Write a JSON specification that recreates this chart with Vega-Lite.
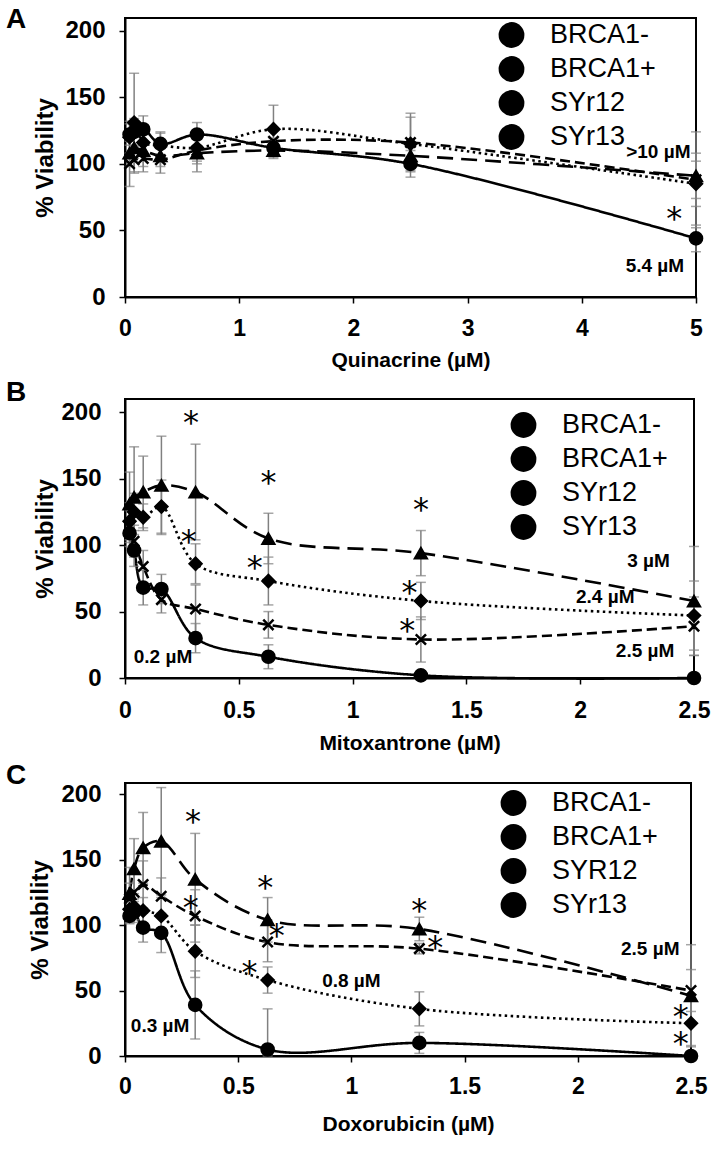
{
  "$schema": "https://vega.github.io/schema/vega-lite/v6.json",
  "background": "white",
  "padding": 5,
  "spacing": 7,
  "datasets": {
    "A": [
      {"s": "BRCA1-", "x": 0.04, "y": 122, "lo": 114, "hi": 130},
      {"s": "BRCA1-", "x": 0.08, "y": 124, "lo": 114, "hi": 134},
      {"s": "BRCA1-", "x": 0.16, "y": 126, "lo": 116, "hi": 136},
      {"s": "BRCA1-", "x": 0.31, "y": 115, "lo": 107, "hi": 123},
      {"s": "BRCA1-", "x": 0.63, "y": 122, "lo": 113, "hi": 131},
      {"s": "BRCA1-", "x": 1.3, "y": 112, "lo": 105, "hi": 119},
      {"s": "BRCA1-", "x": 2.5, "y": 100, "lo": 90, "hi": 110},
      {"s": "BRCA1-", "x": 5, "y": 44, "lo": 34, "hi": 54},
      {"s": "BRCA1+", "x": 0.04, "y": 108, "lo": 98, "hi": 118},
      {"s": "BRCA1+", "x": 0.08, "y": 112, "lo": 104, "hi": 120},
      {"s": "BRCA1+", "x": 0.16, "y": 110, "lo": 98, "hi": 122},
      {"s": "BRCA1+", "x": 0.31, "y": 106, "lo": 98, "hi": 114},
      {"s": "BRCA1+", "x": 0.63, "y": 108, "lo": 94, "hi": 122},
      {"s": "BRCA1+", "x": 1.3, "y": 110, "lo": 104, "hi": 116},
      {"s": "BRCA1+", "x": 2.5, "y": 106, "lo": 98, "hi": 114},
      {"s": "BRCA1+", "x": 5, "y": 91, "lo": 74, "hi": 108},
      {"s": "SYr12", "x": 0.04, "y": 120, "lo": 108, "hi": 132},
      {"s": "SYr12", "x": 0.08, "y": 131, "lo": 94, "hi": 168},
      {"s": "SYr12", "x": 0.16, "y": 116, "lo": 106, "hi": 126},
      {"s": "SYr12", "x": 0.31, "y": 114, "lo": 104, "hi": 124},
      {"s": "SYr12", "x": 0.63, "y": 112, "lo": 102, "hi": 122},
      {"s": "SYr12", "x": 1.3, "y": 126, "lo": 108, "hi": 144},
      {"s": "SYr12", "x": 2.5, "y": 115, "lo": 95, "hi": 135},
      {"s": "SYr12", "x": 5, "y": 85, "lo": 68, "hi": 102},
      {"s": "SYr13", "x": 0.04, "y": 100, "lo": 83, "hi": 117},
      {"s": "SYr13", "x": 0.08, "y": 103, "lo": 93, "hi": 113},
      {"s": "SYr13", "x": 0.16, "y": 104, "lo": 94, "hi": 114},
      {"s": "SYr13", "x": 0.31, "y": 103, "lo": 93, "hi": 113},
      {"s": "SYr13", "x": 0.63, "y": 110, "lo": 100, "hi": 120},
      {"s": "SYr13", "x": 1.3, "y": 117, "lo": 109, "hi": 125},
      {"s": "SYr13", "x": 2.5, "y": 116, "lo": 94, "hi": 138},
      {"s": "SYr13", "x": 5, "y": 88, "lo": 52, "hi": 124}
    ],
    "B": [
      {"s": "BRCA1-", "x": 0.02, "y": 109, "lo": 99, "hi": 119},
      {"s": "BRCA1-", "x": 0.04, "y": 96, "lo": 84, "hi": 108},
      {"s": "BRCA1-", "x": 0.08, "y": 68, "lo": 55, "hi": 81},
      {"s": "BRCA1-", "x": 0.16, "y": 67, "lo": 56, "hi": 78},
      {"s": "BRCA1-", "x": 0.31, "y": 30, "lo": 19, "hi": 41},
      {"s": "BRCA1-", "x": 0.63, "y": 16, "lo": 7, "hi": 25},
      {"s": "BRCA1-", "x": 1.3, "y": 2, "lo": 0, "hi": 4},
      {"s": "BRCA1-", "x": 2.5, "y": 0, "lo": 0, "hi": 1},
      {"s": "BRCA1+", "x": 0.02, "y": 131, "lo": 107, "hi": 155},
      {"s": "BRCA1+", "x": 0.04, "y": 136, "lo": 98, "hi": 174},
      {"s": "BRCA1+", "x": 0.08, "y": 140, "lo": 113, "hi": 167},
      {"s": "BRCA1+", "x": 0.16, "y": 145, "lo": 108, "hi": 182},
      {"s": "BRCA1+", "x": 0.31, "y": 140, "lo": 104, "hi": 176},
      {"s": "BRCA1+", "x": 0.63, "y": 105, "lo": 86, "hi": 124},
      {"s": "BRCA1+", "x": 1.3, "y": 94, "lo": 77, "hi": 111},
      {"s": "BRCA1+", "x": 2.5, "y": 58, "lo": 17, "hi": 99},
      {"s": "SYr12", "x": 0.02, "y": 118, "lo": 104, "hi": 132},
      {"s": "SYr12", "x": 0.04, "y": 125, "lo": 111, "hi": 139},
      {"s": "SYr12", "x": 0.08, "y": 121, "lo": 111, "hi": 131},
      {"s": "SYr12", "x": 0.16, "y": 129, "lo": 109, "hi": 149},
      {"s": "SYr12", "x": 0.31, "y": 86, "lo": 71, "hi": 101},
      {"s": "SYr12", "x": 0.63, "y": 73, "lo": 55, "hi": 91},
      {"s": "SYr12", "x": 1.3, "y": 58, "lo": 44, "hi": 72},
      {"s": "SYr12", "x": 2.5, "y": 47, "lo": 21, "hi": 73},
      {"s": "SYr13", "x": 0.02, "y": 114, "lo": 102, "hi": 126},
      {"s": "SYr13", "x": 0.04, "y": 103, "lo": 91, "hi": 115},
      {"s": "SYr13", "x": 0.08, "y": 84, "lo": 72, "hi": 96},
      {"s": "SYr13", "x": 0.16, "y": 59, "lo": 49, "hi": 69},
      {"s": "SYr13", "x": 0.31, "y": 52, "lo": 34, "hi": 70},
      {"s": "SYr13", "x": 0.63, "y": 40, "lo": 30, "hi": 50},
      {"s": "SYr13", "x": 1.3, "y": 29, "lo": 12, "hi": 46},
      {"s": "SYr13", "x": 2.5, "y": 39, "lo": 17, "hi": 61}
    ],
    "C": [
      {"s": "BRCA1-", "x": 0.02, "y": 107, "lo": 101, "hi": 113},
      {"s": "BRCA1-", "x": 0.04, "y": 110, "lo": 102, "hi": 118},
      {"s": "BRCA1-", "x": 0.08, "y": 98, "lo": 87, "hi": 109},
      {"s": "BRCA1-", "x": 0.16, "y": 94, "lo": 79, "hi": 109},
      {"s": "BRCA1-", "x": 0.31, "y": 39, "lo": 13, "hi": 65},
      {"s": "BRCA1-", "x": 0.63, "y": 5, "lo": 0, "hi": 36},
      {"s": "BRCA1-", "x": 1.3, "y": 10, "lo": 2, "hi": 18},
      {"s": "BRCA1-", "x": 2.5, "y": 0, "lo": 0, "hi": 1},
      {"s": "BRCA1+", "x": 0.02, "y": 124, "lo": 104, "hi": 144},
      {"s": "BRCA1+", "x": 0.04, "y": 143, "lo": 120, "hi": 166},
      {"s": "BRCA1+", "x": 0.08, "y": 159, "lo": 132, "hi": 186},
      {"s": "BRCA1+", "x": 0.16, "y": 164, "lo": 123, "hi": 205},
      {"s": "BRCA1+", "x": 0.31, "y": 135, "lo": 100, "hi": 170},
      {"s": "BRCA1+", "x": 0.63, "y": 104, "lo": 87, "hi": 121},
      {"s": "BRCA1+", "x": 1.3, "y": 97, "lo": 88, "hi": 106},
      {"s": "BRCA1+", "x": 2.5, "y": 46, "lo": 7, "hi": 85},
      {"s": "SYR12", "x": 0.02, "y": 112, "lo": 102, "hi": 122},
      {"s": "SYR12", "x": 0.04, "y": 114, "lo": 104, "hi": 124},
      {"s": "SYR12", "x": 0.08, "y": 111, "lo": 101, "hi": 121},
      {"s": "SYR12", "x": 0.16, "y": 107, "lo": 93, "hi": 121},
      {"s": "SYR12", "x": 0.31, "y": 80, "lo": 60, "hi": 100},
      {"s": "SYR12", "x": 0.63, "y": 58, "lo": 48, "hi": 68},
      {"s": "SYR12", "x": 1.3, "y": 36, "lo": 23, "hi": 49},
      {"s": "SYR12", "x": 2.5, "y": 25, "lo": 8, "hi": 42},
      {"s": "SYr13", "x": 0.02, "y": 120, "lo": 108, "hi": 132},
      {"s": "SYr13", "x": 0.04, "y": 125, "lo": 111, "hi": 139},
      {"s": "SYr13", "x": 0.08, "y": 131, "lo": 113, "hi": 149},
      {"s": "SYr13", "x": 0.16, "y": 122, "lo": 108, "hi": 136},
      {"s": "SYr13", "x": 0.31, "y": 107, "lo": 87, "hi": 127},
      {"s": "SYr13", "x": 0.63, "y": 87, "lo": 72, "hi": 102},
      {"s": "SYr13", "x": 1.3, "y": 82, "lo": 78, "hi": 86},
      {"s": "SYr13", "x": 2.5, "y": 50, "lo": 34, "hi": 66}
    ],
    "A_star": [{"x": 4.81, "y": 64, "label": "*"}],
    "A_lbl": [
      {"x": 4.67, "y": 109, "label": ">10 µM"},
      {"x": 4.64, "y": 23, "label": "5.4 µM"}
    ],
    "B_star": [
      {"x": 0.29, "y": 197, "label": "*"},
      {"x": 0.63, "y": 152, "label": "*"},
      {"x": 1.3, "y": 132, "label": "*"},
      {"x": 0.28, "y": 108, "label": "*"},
      {"x": 0.57, "y": 88, "label": "*"},
      {"x": 1.25, "y": 69, "label": "*"},
      {"x": 1.24, "y": 41, "label": "*"}
    ],
    "B_lbl": [
      {"x": 2.3, "y": 88, "label": "3 µM"},
      {"x": 2.11, "y": 61, "label": "2.4 µM"},
      {"x": 2.285, "y": 20, "label": "2.5 µM"},
      {"x": 0.167, "y": 16, "label": "0.2 µM"}
    ],
    "C_star": [
      {"x": 0.3, "y": 184, "label": "*"},
      {"x": 0.62, "y": 134, "label": "*"},
      {"x": 0.29, "y": 118, "label": "*"},
      {"x": 0.55, "y": 69, "label": "*"},
      {"x": 0.67, "y": 97, "label": "*"},
      {"x": 1.3, "y": 116, "label": "*"},
      {"x": 1.37, "y": 88, "label": "*"},
      {"x": 2.455, "y": 35, "label": "*"},
      {"x": 2.455, "y": 14.5, "label": "*"}
    ],
    "C_lbl": [
      {"x": 0.155, "y": 23, "label": "0.3 µM"},
      {"x": 1.0, "y": 57, "label": "0.8 µM"},
      {"x": 2.32, "y": 82, "label": "2.5 µM"}
    ]
  },
  "vconcat": [
    {
      "title": {"text": "A", "anchor": "start", "frame": "group", "orient": "top", "offset": -38, "dx": -119, "baseline": "alphabetic", "font": "Liberation Sans", "fontSize": 28, "fontWeight": "bold", "color": "black"},
      "width": 571,
      "height": 279,
      "data": {"name": "A"},
      "encoding": {
        "x": {"field": "x", "type": "quantitative", "title": "Quinacrine (µM)", "scale": {"domain": [0, 5], "nice": false, "zero": false}, "axis": {"values": [0, 1, 2, 3, 4, 5], "format": "~g", "labelFlush": false, "labelPadding": 14, "titlePadding": 9, "labelFontSize": 23, "titleFontSize": 21}},
        "y": {"field": "y", "type": "quantitative", "title": "% Viability", "scale": {"domain": [0, 209.5], "nice": false}, "axis": {"values": [0, 50, 100, 150, 200], "labelPadding": 14, "titlePadding": 7, "labelFontSize": 24, "titleFontSize": 24}}
      },
      "layer": [
        {"mark": {"type": "line", "interpolate": "catmull-rom", "color": "black", "strokeWidth": 2.6}, "encoding": {"strokeDash": {"field": "s", "type": "nominal", "scale": {"range": [[16, 8], [1, 0], [2.5, 3.5], [10, 5]]}, "legend": null}}},
        {"mark": {"type": "errorbar", "color": "#808080", "thickness": 1.5, "ticks": {"size": 10, "thickness": 1.5}}, "encoding": {"y": {"field": "lo", "type": "quantitative", "title": "% Viability", "scale": {"domain": [0, 209.5], "nice": false}}, "y2": {"field": "hi"}}},
        {"mark": {"type": "point", "filled": false, "fill": "black", "stroke": "black", "strokeWidth": 1.6, "size": 170}, "encoding": {
          "shape": {"field": "s", "type": "nominal", "scale": {"domain": ["BRCA1+", "BRCA1-", "SYr12", "SYr13"], "range": ["triangle-up", "circle", "diamond", "M0,-0.1L0.65,-0.75L0.75,-0.65L0.1,0L0.75,0.65L0.65,0.75L0,0.1L-0.65,0.75L-0.75,0.65L-0.1,0L-0.75,-0.65L-0.65,-0.75Z"]}, "legend": null},
          "opacity": {"field": "s", "type": "nominal", "scale": {"domain": ["BRCA1-", "BRCA1+", "SYr12", "SYr13"], "range": [1, 1, 1, 1]}, "legend": {"orient": "none", "legendX": 354, "legendY": 3, "title": null, "padding": 0, "rowPadding": 0, "symbolSize": 666, "symbolOffset": 18.5, "labelOffset": 24.5, "labelFont": "Liberation Sans", "labelFontSize": 27, "labelFontWeight": "normal", "labelColor": "black", "labelLimit": 400, "symbolStrokeWidth": 2, "symbolFillColor": "black", "symbolStrokeColor": "black"}}
        }},
        {"data": {"name": "A_star"}, "mark": {"type": "text", "font": "DejaVu Sans", "fontSize": 32, "dy": 7, "align": "center", "baseline": "middle", "color": "black"}, "encoding": {"text": {"field": "label"}}},
        {"data": {"name": "A_lbl"}, "mark": {"type": "text", "font": "Liberation Sans", "fontWeight": "bold", "fontSize": 19, "align": "center", "baseline": "middle", "color": "black"}, "encoding": {"text": {"field": "label"}}}
      ]
    },
    {
      "title": {"text": "B", "anchor": "start", "frame": "group", "orient": "top", "offset": -30, "dx": -119, "baseline": "alphabetic", "font": "Liberation Sans", "fontSize": 28, "fontWeight": "bold", "color": "black"},
      "width": 569,
      "height": 279,
      "data": {"name": "B"},
      "encoding": {
        "x": {"field": "x", "type": "quantitative", "title": "Mitoxantrone (µM)", "scale": {"domain": [0, 2.5], "nice": false, "zero": false}, "axis": {"values": [0, 0.5, 1, 1.5, 2, 2.5], "format": "~g", "labelFlush": false, "labelPadding": 15, "titlePadding": 10, "labelFontSize": 23, "titleFontSize": 21}},
        "y": {"field": "y", "type": "quantitative", "title": "% Viability", "scale": {"domain": [0, 210], "nice": false}, "axis": {"values": [0, 50, 100, 150, 200], "labelPadding": 18, "titlePadding": 3, "labelFontSize": 24, "titleFontSize": 24}}
      },
      "layer": [
        {"mark": {"type": "line", "interpolate": "catmull-rom", "color": "black", "strokeWidth": 2.6}, "encoding": {"strokeDash": {"field": "s", "type": "nominal", "scale": {"range": [[16, 8], [1, 0], [2.5, 3.5], [10, 5]]}, "legend": null}}},
        {"mark": {"type": "errorbar", "color": "#808080", "thickness": 1.5, "ticks": {"size": 10, "thickness": 1.5}}, "encoding": {"y": {"field": "lo", "type": "quantitative", "title": "% Viability", "scale": {"domain": [0, 210], "nice": false}}, "y2": {"field": "hi"}}},
        {"mark": {"type": "point", "filled": false, "fill": "black", "stroke": "black", "strokeWidth": 1.6, "size": 170}, "encoding": {
          "shape": {"field": "s", "type": "nominal", "scale": {"domain": ["BRCA1+", "BRCA1-", "SYr12", "SYr13"], "range": ["triangle-up", "circle", "diamond", "M0,-0.1L0.65,-0.75L0.75,-0.65L0.1,0L0.75,0.65L0.65,0.75L0,0.1L-0.65,0.75L-0.75,0.65L-0.1,0L-0.75,-0.65L-0.65,-0.75Z"]}, "legend": null},
          "opacity": {"field": "s", "type": "nominal", "scale": {"domain": ["BRCA1-", "BRCA1+", "SYr12", "SYr13"], "range": [1, 1, 1, 1]}, "legend": {"orient": "none", "legendX": 366, "legendY": 12, "title": null, "padding": 0, "rowPadding": 0, "symbolSize": 666, "symbolOffset": 18.5, "labelOffset": 24.5, "labelFont": "Liberation Sans", "labelFontSize": 27, "labelFontWeight": "normal", "labelColor": "black", "labelLimit": 400, "symbolStrokeWidth": 2, "symbolFillColor": "black", "symbolStrokeColor": "black"}}
        }},
        {"data": {"name": "B_star"}, "mark": {"type": "text", "font": "DejaVu Sans", "fontSize": 32, "dy": 7, "align": "center", "baseline": "middle", "color": "black"}, "encoding": {"text": {"field": "label"}}},
        {"data": {"name": "B_lbl"}, "mark": {"type": "text", "font": "Liberation Sans", "fontWeight": "bold", "fontSize": 19, "align": "center", "baseline": "middle", "color": "black"}, "encoding": {"text": {"field": "label"}}}
      ]
    },
    {
      "title": {"text": "C", "anchor": "start", "frame": "group", "orient": "top", "offset": -30, "dx": -119, "baseline": "alphabetic", "font": "Liberation Sans", "fontSize": 28, "fontWeight": "bold", "color": "black"},
      "width": 566,
      "height": 273,
      "data": {"name": "C"},
      "encoding": {
        "x": {"field": "x", "type": "quantitative", "title": "Doxorubicin (µM)", "scale": {"domain": [0, 2.5], "nice": false, "zero": false}, "axis": {"values": [0, 0.5, 1, 1.5, 2, 2.5], "format": "~g", "labelFlush": false, "labelPadding": 13, "titlePadding": 15, "labelFontSize": 23, "titleFontSize": 21}},
        "y": {"field": "y", "type": "quantitative", "title": "% Viability", "scale": {"domain": [0, 208.5], "nice": false}, "axis": {"values": [0, 50, 100, 150, 200], "labelPadding": 18, "titlePadding": 8, "labelFontSize": 24, "titleFontSize": 24}}
      },
      "layer": [
        {"mark": {"type": "line", "interpolate": "catmull-rom", "color": "black", "strokeWidth": 2.6}, "encoding": {"strokeDash": {"field": "s", "type": "nominal", "scale": {"range": [[16, 8], [1, 0], [2.5, 3.5], [10, 5]]}, "legend": null}}},
        {"mark": {"type": "errorbar", "color": "#808080", "thickness": 1.5, "ticks": {"size": 10, "thickness": 1.5}}, "encoding": {"y": {"field": "lo", "type": "quantitative", "title": "% Viability", "scale": {"domain": [0, 208.5], "nice": false}}, "y2": {"field": "hi"}}},
        {"mark": {"type": "point", "filled": false, "fill": "black", "stroke": "black", "strokeWidth": 1.6, "size": 170}, "encoding": {
          "shape": {"field": "s", "type": "nominal", "scale": {"domain": ["BRCA1+", "BRCA1-", "SYR12", "SYr13"], "range": ["triangle-up", "circle", "diamond", "M0,-0.1L0.65,-0.75L0.75,-0.65L0.1,0L0.75,0.65L0.65,0.75L0,0.1L-0.65,0.75L-0.75,0.65L-0.1,0L-0.75,-0.65L-0.65,-0.75Z"]}, "legend": null},
          "opacity": {"field": "s", "type": "nominal", "scale": {"domain": ["BRCA1-", "BRCA1+", "SYR12", "SYr13"], "range": [1, 1, 1, 1]}, "legend": {"orient": "none", "legendX": 356, "legendY": 6, "title": null, "padding": 0, "rowPadding": 0, "symbolSize": 666, "symbolOffset": 18.5, "labelOffset": 24.5, "labelFont": "Liberation Sans", "labelFontSize": 27, "labelFontWeight": "normal", "labelColor": "black", "labelLimit": 400, "symbolStrokeWidth": 2, "symbolFillColor": "black", "symbolStrokeColor": "black"}}
        }},
        {"data": {"name": "C_star"}, "mark": {"type": "text", "font": "DejaVu Sans", "fontSize": 32, "dy": 7, "align": "center", "baseline": "middle", "color": "black"}, "encoding": {"text": {"field": "label"}}},
        {"data": {"name": "C_lbl"}, "mark": {"type": "text", "font": "Liberation Sans", "fontWeight": "bold", "fontSize": 19, "align": "center", "baseline": "middle", "color": "black"}, "encoding": {"text": {"field": "label"}}}
      ]
    }
  ],
  "resolve": {
    "scale": {"x": "independent", "y": "independent", "shape": "independent", "strokeDash": "independent", "opacity": "independent"},
    "legend": {"shape": "independent", "strokeDash": "independent", "opacity": "independent"}
  },
  "config": {
    "view": {"stroke": "black", "strokeWidth": 2},
    "axis": {
      "domainColor": "black", "domainWidth": 2, "tickColor": "black", "tickWidth": 1.5, "tickSize": 6, "grid": false,
      "labelFont": "Liberation Sans", "labelFontWeight": "bold", "labelColor": "black",
      "titleFont": "Liberation Sans", "titleFontWeight": "bold", "titleColor": "black"
    }
  }
}
